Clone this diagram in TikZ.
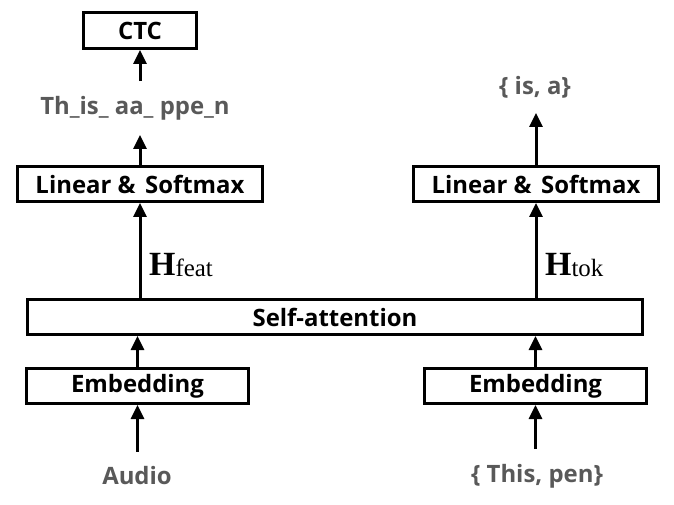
\documentclass[tikz,border=0pt]{standalone}
\usepackage{fontspec}
\setmainfont{Open Sans}
\newfontfamily\hfont{Liberation Serif}
\usetikzlibrary{arrows.meta}
\definecolor{txtgray}{HTML}{595959}
\tikzset{
  box/.style={draw, line width=3bp, inner sep=0pt, font=\fontsize{24}{24}\selectfont\bfseries, text=black},
  outtxt/.style={inner sep=0pt, outer ysep=15bp, text=txtgray, font=\fontsize{24}{24}\selectfont\bfseries},
  arr/.style={line width=3bp, -{Triangle[width=13bp,length=14bp]}},
  hlab/.style={inner sep=0pt, anchor=base west}
}
\begin{document}
\begin{tikzpicture}[x=1bp,y=-1bp]
\useasboundingbox (0,0) rectangle (674,505);
\node[box, minimum width=113bp, minimum height=36bp] (CTC) at (140,30.5) {CTC};
\node[outtxt] (ctcout) at (135,108) {Th\_is\_ aa\_ ppe\_n};
\node[outtxt] (isa) at (535,87) {\{ is, a\}};
\node[box, minimum width=245bp, minimum height=35bp] (LinL) at (140,184) {Linear \&\hspace{0.4em}Softmax};
\node[box, minimum width=245bp, minimum height=35bp] (LinR) at (536,184) {Linear \&\hspace{0.4em}Softmax};
\node[box, minimum width=615bp, minimum height=35bp] (SA) at (335,317) {Self-attention};
\node[box, minimum width=222bp, minimum height=35bp] (EmbL) at (137.5,386) {Embedding};
\node[box, minimum width=222bp, minimum height=35bp] (EmbR) at (535.5,386) {Embedding};
\node[outtxt] (audio) at (137,476) {Audio};
\node[outtxt] (tp) at (537,476) {\{ This, pen\}};
\node[hlab] (hf) at (149,275) {\hfont\fontsize{34}{34}\selectfont\bfseries H\fontsize{25}{25}\selectfont\mdseries\raisebox{-1bp}{feat}};
\node[hlab] (ht) at (545,275) {\hfont\fontsize{34}{34}\selectfont\bfseries H\fontsize{25}{25}\selectfont\mdseries\raisebox{-1bp}{tok}};
\draw[arr] (ctcout.north -| CTC.south) -- (CTC.south);
\draw[arr] (LinL.north) -- (LinL.north |- ctcout.south);
\draw[arr] (LinR.north) -- (LinR.north |- isa.south);
\draw[arr] (SA.north -| LinL.south) -- (LinL.south);
\draw[arr] (SA.north -| LinR.south) -- (LinR.south);
\draw[arr] (EmbL.north) -- (EmbL.north |- SA.south);
\draw[arr] (EmbR.north) -- (EmbR.north |- SA.south);
\draw[arr] (audio.north -| EmbL.south) -- (EmbL.south);
\draw[arr] (tp.north -| EmbR.south) -- (EmbR.south);
\end{tikzpicture}
\end{document}
